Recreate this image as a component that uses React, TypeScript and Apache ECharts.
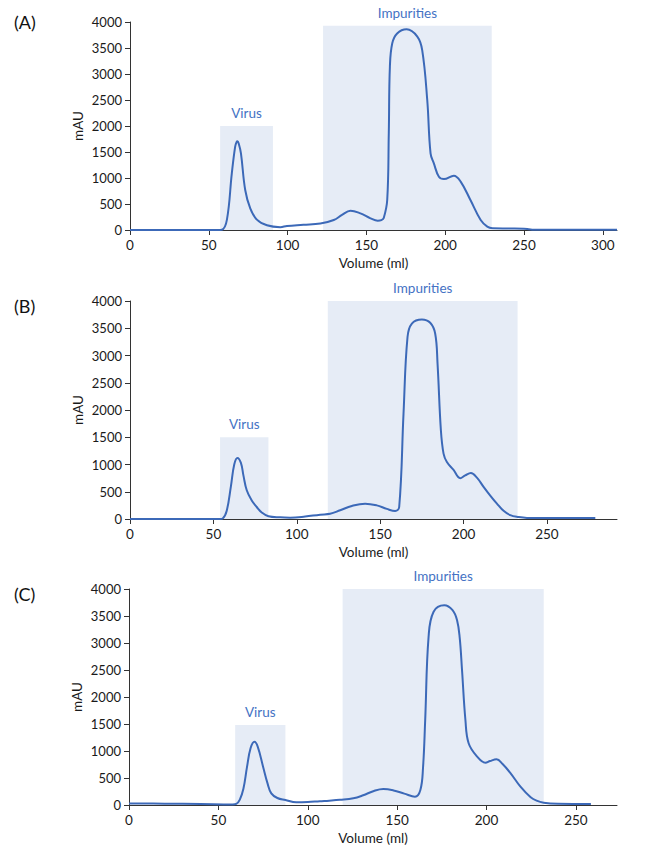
import { useEffect, useRef } from "react";
import * as echarts from "echarts";

type Pt = [number, number];

// chromatogram traces, volume (ml) vs absorbance (mAU)
const traceA: Pt[] = [
  [0, 0], [30, 0], [56, 0], [58.3, 5], [61.5, 200], [64.6, 1090], [66.7, 1600], [67.6, 1690],
  [68.2, 1705], [69, 1660], [70.4, 1475], [73.1, 770], [76.3, 417], [80.5, 200], [86.9, 90],
  [95.4, 55], [99.6, 77], [110, 100], [120.8, 125], [129.3, 192], [134.5, 290], [139.9, 371],
  [146.2, 320], [152.6, 225], [157.2, 180], [159.5, 190], [161, 230], [163.2, 577], [164.2, 1860],
  [164.9, 3140], [166.4, 3590], [169.5, 3780], [175.5, 3860], [182.3, 3720], [185.4, 3460],
  [188.6, 2500], [190.7, 1475], [192.8, 1280], [196, 1025], [199.2, 980], [205.5, 1045],
  [209.8, 930], [216, 577], [222.5, 192], [226.7, 64], [230, 32], [240, 28], [250, 25],
  [253, 15], [256, 3], [309, 3]
];
const traceB: Pt[] = [
  [0, 0], [30, 0], [54, 0], [55.6, 10], [58, 150], [60.5, 600], [62.5, 1000], [64.4, 1120],
  [66.5, 1030], [68, 800], [70, 527], [73, 340], [76, 220], [79, 120], [83, 50], [90, 30],
  [96, 25], [105, 45], [114, 80], [120, 95], [126, 160], [133, 240], [141, 282], [148, 250],
  [154, 185], [159, 147], [161.4, 220], [164, 1934], [166.4, 3340], [169, 3585], [175, 3660],
  [180, 3600], [183, 3400], [184.4, 2850], [186.4, 1630], [188, 1200], [190, 1045], [194, 900],
  [198, 750], [201, 800], [204.4, 845], [208, 760], [212, 590], [216, 430], [220, 282],
  [224, 150], [228, 70], [233, 35], [238, 20], [260, 18], [279, 18]
];
const traceC: Pt[] = [
  [0, 30], [20, 25], [40, 18], [58, 10], [60, 20], [62, 100], [64, 300], [66, 700], [68, 1050],
  [70.2, 1170], [72, 1080], [75, 710], [77.5, 400], [79.6, 216], [83, 130], [87.5, 93],
  [93.6, 50], [100, 55], [106.7, 70], [112, 80], [118, 95], [125.5, 124], [131, 180], [137, 260],
  [142.3, 296], [148, 270], [154, 210], [160, 154], [163, 278], [164.5, 700], [165.7, 1574],
  [167.6, 3117], [170.4, 3580], [176.4, 3700], [181, 3610], [183.5, 3425], [185, 3100],
  [186.3, 2500], [188.2, 1574], [190, 1143], [194.8, 895], [199.4, 783], [202, 815],
  [205.6, 846], [209, 760], [213.5, 587], [219, 340], [224.7, 143], [228, 80], [232, 43],
  [240, 25], [258.4, 20]
];

const panelLabels = ["(A)", "(B)", "(C)"];
const xMax = [309, 292, 273];
const xTicks = [
  [0, 50, 100, 150, 200, 250, 300],
  [0, 50, 100, 150, 200, 250],
  [0, 50, 100, 150, 200, 250]
];
// shaded fractions: [start ml, end ml, top mAU]
const virusBoxes: [number, number, number][] = [[57.2, 90.7, 2000], [54, 83, 1500], [59.4, 87.5, 1480]];
const impurityBoxes: [number, number, number][] = [[122.5, 229.5, 3930], [118.6, 232.4, 4000], [119.5, 232, 4000]];
const traces = [traceA, traceB, traceC];

const FONT = "Lato, 'Open Sans', sans-serif";
const BLUE_TEXT = "#4472c4";
const LINE = "#3c69b8";
const BOX = "#e6ecf6";
const AXIS = "#333";
const TEXT = "#1a1a1a";

const grids = [
  { left: 130, right: 37, top: 22, height: 208 },
  { left: 130, right: 37, top: 301, height: 218 },
  { left: 129, right: 37, top: 589, height: 216 }
];
const labelTops = [8, 292, 580];

export default function App() {
  const ref = useRef<HTMLDivElement>(null);

  useEffect(() => {
    if (!ref.current) return;
    const chart = echarts.init(ref.current, undefined, { renderer: "svg" });
    const areaLabel = {
      show: true,
      position: "top",
      distance: 6,
      color: BLUE_TEXT,
      fontSize: 13.5,
      fontFamily: FONT
    };
    chart.setOption({
      animation: false,
      backgroundColor: "#fff",
      textStyle: { fontFamily: FONT },
      title: panelLabels.map((t, i) => ({
        text: t,
        left: 9,
        top: labelTops[i],
        textStyle: { fontSize: 18, fontWeight: "normal", color: "#111", fontFamily: FONT }
      })),
      grid: grids.map((g) => ({ ...g, containLabel: false })),
      xAxis: grids.map((_, i) => ({
        type: "value",
        gridIndex: i,
        min: 0,
        max: xMax[i],
        name: "Volume (ml)",
        nameLocation: "middle",
        nameGap: 26,
        nameMoveOverlap: false,
        nameTextStyle: { color: TEXT, fontSize: 13.5, fontFamily: FONT },
        axisLine: { lineStyle: { color: AXIS, width: 1 } },
        axisTick: { show: true, length: 5, lineStyle: { color: AXIS }, customValues: xTicks[i] },
        axisLabel: { color: TEXT, fontSize: 13.5, margin: 8, customValues: xTicks[i], fontFamily: FONT },
        splitLine: { show: false }
      })),
      yAxis: grids.map((_, i) => ({
        type: "value",
        gridIndex: i,
        min: 0,
        max: 4000,
        interval: 500,
        name: "mAU",
        nameLocation: "middle",
        nameGap: 45,
        nameMoveOverlap: false,
        nameTextStyle: { color: TEXT, fontSize: 13.5, fontFamily: FONT },
        axisLine: { show: true, lineStyle: { color: AXIS, width: 1 } },
        axisTick: { show: true, length: 5, lineStyle: { color: AXIS } },
        axisLabel: {
          color: TEXT,
          fontSize: 13,
          margin: 8,
          fontFamily: FONT,
          formatter: (v: number) => String(v)
        },
        splitLine: { show: false }
      })),
      series: traces.map((data, i) => ({
        type: "line",
        xAxisIndex: i,
        yAxisIndex: i,
        data,
        showSymbol: false,
        smooth: 0.4,
        lineStyle: { color: LINE, width: 2 },
        itemStyle: { color: LINE },
        z: 3,
        markArea: {
          silent: true,
          itemStyle: { color: BOX },
          label: areaLabel,
          data: [
            [
              { name: "Virus", coord: [virusBoxes[i][0], 0] },
              { coord: [virusBoxes[i][1], virusBoxes[i][2]] }
            ],
            [
              { name: "Impurities", coord: [impurityBoxes[i][0], 0] },
              { coord: [impurityBoxes[i][1], impurityBoxes[i][2]] }
            ]
          ]
        }
      }))
    });
    return () => chart.dispose();
  }, []);

  return (
    <div
      ref={ref}
      style={{ position: "absolute", left: 0, top: 0, width: 654, height: 855 }}
    />
  );
}
